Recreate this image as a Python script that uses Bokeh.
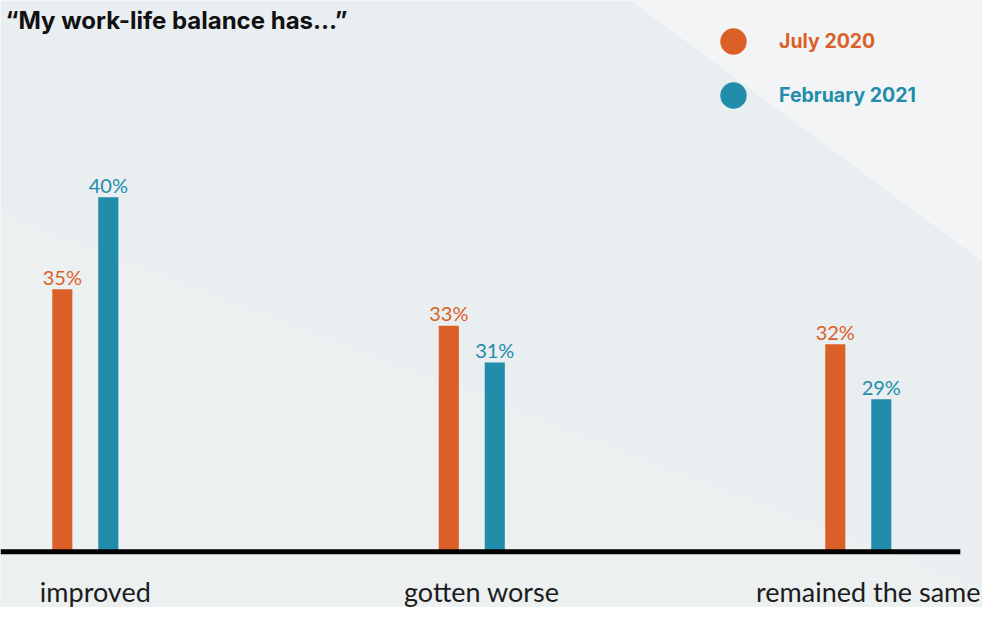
from bokeh.plotting import figure
from bokeh.models import (Range1d, PolyAnnotation, Label, Legend, LegendItem,
                          ColumnDataSource)
from bokeh.transform import dodge
from bokeh.core.properties import value
from bokeh.embed import file_html
from bokeh.resources import INLINE

# ---- data ----
categories = ["improved", "gotten worse", "remained the same"]
series_names = ["July 2020", "February 2021"]
july_2020 = [35, 33, 32]
feb_2021 = [40, 31, 29]
title_text = "\u201cMy work-life balance has\u2026\u201d"

# ---- style ----
ORANGE = "#DB6028"
TEAL = "#228DAA"
BG = "#E9EEF1"
W, H = 982, 607
AXIS_FLOOR = 20.7      # truncated value axis floor (baseline)
BAR_W = 0.052
DODGE = 0.0595
FONT = "Lato"
HEAD_FONT = "Inter"

idx = list(range(len(categories)))
src = ColumnDataSource(dict(
    idx=idx, cat=categories, jul=july_2020, feb=feb_2021,
    jul_lbl=[f"{v}%" for v in july_2020],
    feb_lbl=[f"{v}%" for v in feb_2021],
))

p = figure(width=W, height=H, x_range=Range1d(-0.2194, 2.3214),
           y_range=Range1d(17.66, 50.72), output_backend="svg",
           toolbar_location=None, min_border=0,
           x_axis_location=None, y_axis_location=None)
p.grid.visible = False
p.outline_line_color = None
p.background_fill_color = BG
p.border_fill_color = BG

# background decoration
p.add_layout(PolyAnnotation(xs=[630, 998, 998], ys=[607, 607, 334],
                            xs_units="screen", ys_units="screen",
                            fill_color="#F2F4F5", fill_alpha=1,
                            line_color=None, level="underlay"))
p.add_layout(PolyAnnotation(xs=[0, 998, 998, 0], ys=[395, 14, -5, -5],
                            xs_units="screen", ys_units="screen",
                            fill_color="#ECF0F1", fill_alpha=1,
                            line_color=None, level="underlay"))

# bars
p.vbar(x=dodge("idx", -DODGE), top="jul", bottom=AXIS_FLOOR, width=BAR_W,
       source=src, fill_color=ORANGE, line_color=None)
p.vbar(x=dodge("idx", DODGE), top="feb", bottom=AXIS_FLOOR, width=BAR_W,
       source=src, fill_color=TEAL, line_color=None)

# value labels
p.text(x=dodge("idx", -DODGE), y="jul", text="jul_lbl", source=src,
       text_align="center", text_baseline="middle", y_offset=-12.5,
       text_font=value(FONT), text_font_size="20px", text_color=ORANGE)
p.text(x=dodge("idx", DODGE), y="feb", text="feb_lbl", source=src,
       text_align="center", text_baseline="middle", y_offset=-12.5,
       text_font=value(FONT), text_font_size="20px", text_color=TEAL)

# baseline
p.segment(x0=p.x_range.start, y0=AXIS_FLOOR, x1=idx[-1] + 0.264,
          y1=AXIS_FLOOR, line_color="black", line_width=5)

# category labels
p.text(x="idx", y=p.y_range.start, text="cat", source=src,
       x_offset=10, y_offset=-16, text_align="center",
       text_baseline="middle", text_font=value(FONT),
       text_font_size="27px", text_color="#1c1c1c")

# title
p.add_layout(Label(x=5, y=587, x_units="screen", y_units="screen",
                   text=title_text, text_font=HEAD_FONT,
                   text_font_style="bold", text_font_size="24px",
                   text_color="#111111", text_baseline="middle"))

# legend (two single-item legends so each label has its own colour)
nan = float("nan")
r1 = p.scatter(x=[nan], y=[nan], marker="circle", fill_color=ORANGE,
               line_color=None)
r2 = p.scatter(x=[nan], y=[nan], marker="circle", fill_color=TEAL,
               line_color=None)
for r, name, col, loc in [(r1, series_names[0], ORANGE, (700, 533)),
                          (r2, series_names[1], TEAL, (700, 479))]:
    leg = Legend(items=[LegendItem(label=name, renderers=[r])], location=loc,
                 glyph_width=66, glyph_height=66, label_standoff=13,
                 padding=0, margin=0, spacing=0,
                 background_fill_alpha=0, border_line_alpha=0,
                 label_text_font=HEAD_FONT, label_text_font_style="bold",
                 label_text_font_size="19.5px", label_text_color=col)
    p.add_layout(leg)

open("out.html", "w").write(file_html(p, INLINE))
